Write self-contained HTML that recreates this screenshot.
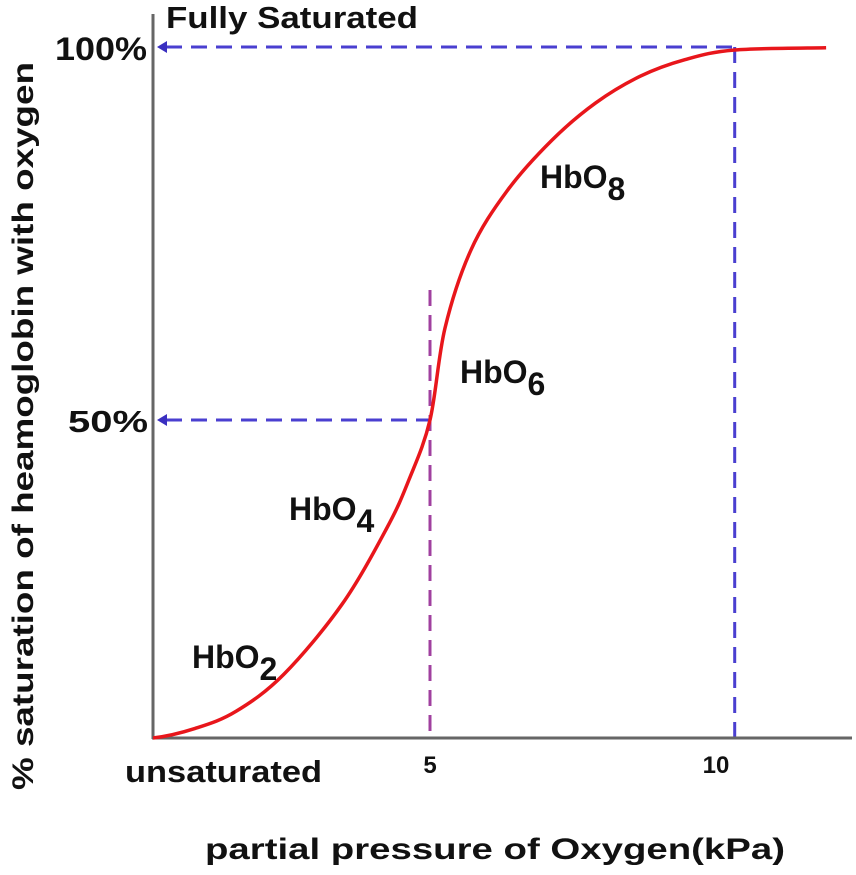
<!DOCTYPE html>
<html><head><meta charset="utf-8"><style>
html,body{margin:0;padding:0;background:#fff;}
svg text{font-family:"Liberation Sans",sans-serif;font-weight:bold;fill:#111;}
</style></head><body>
<svg id="chart" width="856" height="870" viewBox="0 0 856 870" xmlns="http://www.w3.org/2000/svg">
<g id="guides"></g>
<line x1="153" y1="14" x2="153" y2="739" stroke="#666" stroke-width="3"/>
<line x1="152" y1="738" x2="852" y2="738" stroke="#666" stroke-width="3"/>
<path id="curve" fill="none" stroke="#e8161b" stroke-width="3.5"/>
<text x="166" y="28" font-size="31" textLength="252" lengthAdjust="spacingAndGlyphs">Fully Saturated</text>
<text x="125" y="782" font-size="31" textLength="197" lengthAdjust="spacingAndGlyphs">unsaturated</text>
<text x="55" y="60" font-size="32" textLength="92" lengthAdjust="spacingAndGlyphs">100%</text>
<text x="68" y="432" font-size="31" textLength="80" lengthAdjust="spacingAndGlyphs">50%</text>
<text x="430" y="773" font-size="24" text-anchor="middle">5</text>
<text x="716" y="773" font-size="24" text-anchor="middle">10</text>
<text x="205" y="859" font-size="30" textLength="580" lengthAdjust="spacingAndGlyphs">partial pressure of Oxygen(kPa)</text>
<text transform="translate(33,790) rotate(-90)" font-size="30" textLength="728" lengthAdjust="spacingAndGlyphs">% saturation of heamoglobin with oxygen</text>
<text x="192" y="668" font-size="32">HbO<tspan dy="12">2</tspan></text>
<text x="289" y="520" font-size="32">HbO<tspan dy="12">4</tspan></text>
<text x="460" y="383" font-size="32">HbO<tspan dy="12">6</tspan></text>
<text x="540" y="188" font-size="32">HbO<tspan dy="12">8</tspan></text>
</svg>
<script>
const pressure = [0, 0.76, 1.5, 2.36, 3.41, 4.22, 4.62, 5, 5.27, 5.74, 6.39, 7.2, 7.99, 8.8, 9.6, 10.5, 12.15];
const saturation = [0, 1.5, 4.2, 10, 21, 33, 40.6, 50, 62.3, 72.8, 80.7, 87.5, 92.5, 96.1, 98.3, 99.6, 99.9];
const halfPressure = 5;
const fullPressure = 10.5;
const fx = v => 153 + v * 55.4;
const fy = v => v <= 50 ? 738 - v * 6.36 : 420 - (v - 50) * 7.46;
const pts = pressure.map((p, i) => [fx(p), fy(saturation[i])]);
const n = pts.length;
let d = `M${pts[0][0]},${pts[0][1]}`;
for (let i = 0; i < n - 1; i++) {
  const p0 = i === 0 ? [pts[0][0] - (pts[1][0] - pts[0][0]), pts[0][1]] : pts[i - 1];
  const p1 = pts[i], p2 = pts[i + 1], p3 = pts[Math.min(i + 2, n - 1)];
  const c1 = [p1[0] + (p2[0] - p0[0]) / 6, p1[1] + (p2[1] - p0[1]) / 6];
  const c2 = [p2[0] - (p3[0] - p1[0]) / 6, p2[1] - (p3[1] - p1[1]) / 6];
  d += ` C${c1[0]},${c1[1]} ${c2[0]},${c2[1]} ${p2[0]},${p2[1]}`;
}
document.getElementById('curve').setAttribute('d', d);
const g = document.getElementById('guides');
const NS = 'http://www.w3.org/2000/svg';
function line(x1, y1, x2, y2, color, name) {
  const l = document.createElementNS(NS, 'line');
  l.setAttribute('x1', x1); l.setAttribute('y1', y1); l.setAttribute('x2', x2); l.setAttribute('y2', y2);
  l.setAttribute('stroke', color); l.setAttribute('stroke-width', '3'); l.setAttribute('stroke-dasharray', '16 9');
  
  
  g.appendChild(l);
}
function arrow(y, name) {
  const a = document.createElementNS(NS, 'polygon');
  a.setAttribute('points', `157,${y} 167,${y - 6} 167,${y + 6}`);
  a.setAttribute('fill', '#3a2fc0');
  
  
  g.appendChild(a);
}
line(fx(halfPressure), 290, fx(halfPressure), 738, '#a0409f', 'half-saturation-vertical-guide');
line(fx(fullPressure), fy(100), fx(fullPressure), 738, '#4a3fd0', 'full-saturation-vertical-guide');
line(166, fy(100), fx(fullPressure), fy(100), '#4a3fd0', 'full-saturation-horizontal-guide');
line(166, fy(50), fx(halfPressure), fy(50), '#4a3fd0', 'half-saturation-horizontal-guide');
arrow(fy(100), 'arrow-100');
arrow(fy(50), 'arrow-50');
</script>
</body></html>
